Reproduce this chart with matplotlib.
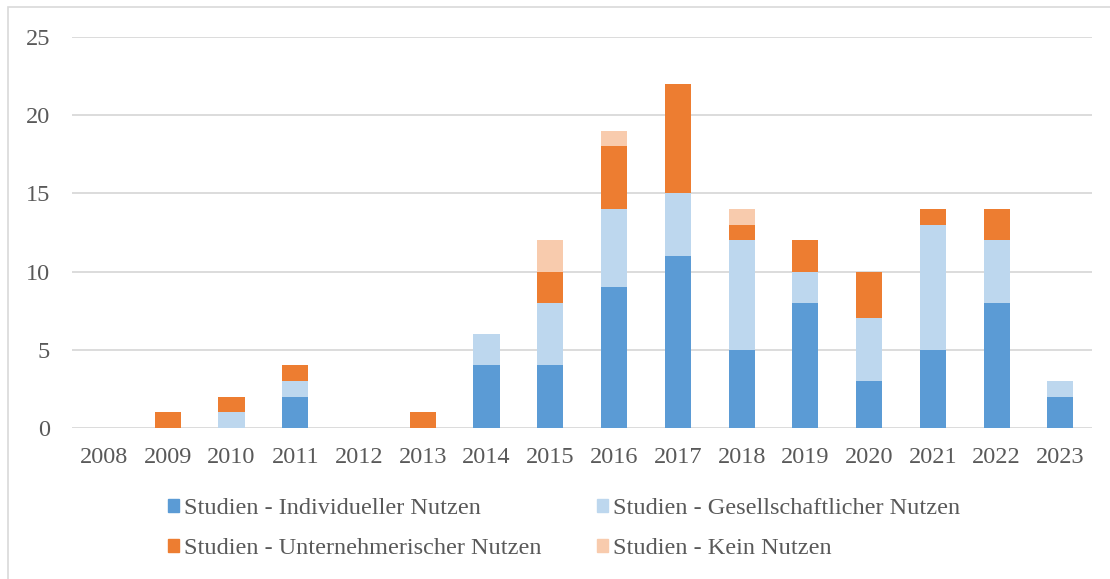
import numpy as np
import matplotlib
matplotlib.use("Agg")
import matplotlib.pyplot as plt
from matplotlib.patches import Patch, Rectangle

years = ["2008", "2009", "2010", "2011", "2012", "2013", "2014", "2015",
         "2016", "2017", "2018", "2019", "2020", "2021", "2022", "2023"]
individuell = [0, 0, 0, 2, 0, 0, 4, 4, 9, 11, 5, 8, 3, 5, 8, 2]
gesellschaft = [0, 0, 1, 1, 0, 0, 2, 4, 5, 4, 7, 2, 4, 8, 4, 1]
unternehmer = [0, 1, 1, 1, 0, 1, 0, 2, 4, 7, 1, 2, 3, 1, 2, 0]
kein = [0, 0, 0, 0, 0, 0, 0, 2, 1, 0, 1, 0, 0, 0, 0, 0]

labels = ["Studien - Individueller Nutzen", "Studien - Gesellschaftlicher Nutzen",
          "Studien - Unternehmerischer Nutzen", "Studien - Kein Nutzen"]
colors = ["#5B9BD5", "#BDD7EE", "#ED7D31", "#F8CBAD"]
TXT = "#595959"
FS = 17.5

plt.rcParams['font.family'] = ['Liberation Serif', 'DejaVu Serif']
plt.rcParams['font.size'] = FS

fig = plt.figure(figsize=(11.1, 5.79), dpi=100)
# outer chart frame
fig.patches.append(Rectangle((8 / 1110, -0.05), 1.2, 1 - 7 / 579 + 0.05,
                             transform=fig.transFigure, fill=False,
                             edgecolor="#D9D9D9", linewidth=1.2))

ax = fig.add_axes([0.065, 0.261, 0.919, 0.675])
x = np.arange(len(years))
bottom = np.zeros(len(years))
for vals, col in zip([individuell, gesellschaft, unternehmer, kein], colors):
    ax.bar(x, vals, width=0.41, bottom=bottom, color=col, zorder=3)
    bottom += np.array(vals)

ax.set_xlim(-0.5, len(years) - 0.5)
ax.set_ylim(0, 25)
ax.set_yticks(range(0, 26, 5))
ax.set_xticks(x)
ax.set_xticklabels(years)
ax.grid(axis='y', color="#D9D9D9", linewidth=1.3, zorder=0)
for s in ax.spines.values():
    s.set_visible(False)
ax.tick_params(length=0, colors=TXT, labelsize=FS)
ax.tick_params(axis='y', pad=16)
ax.tick_params(axis='x', pad=14)

handles = [Patch(color=c) for c in colors]
order = [0, 2, 1, 3]
fig.legend([handles[i] for i in order], [labels[i] for i in order],
           ncol=2, loc='center', bbox_to_anchor=(0.508, 0.087),
           frameon=False, handlelength=0.46, handleheight=0.46,
           handletextpad=0.2, columnspacing=2.3, labelspacing=0.8,
           labelcolor=TXT, fontsize=FS)

fig.savefig("out.png", dpi=100)
